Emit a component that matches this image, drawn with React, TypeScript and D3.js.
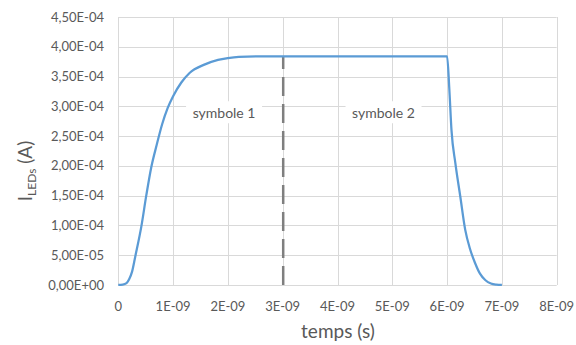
import React from "react";
import * as d3 from "d3";

// time in units of 1E-09 s, current in units of 1E-04 A
const timeNs: number[] = [0, 0.08, 0.15, 0.2, 0.25, 0.31, 0.42, 0.51, 0.6, 0.7, 0.8, 0.9, 1.0, 1.15, 1.3, 1.57, 1.82, 2.0, 2.2, 2.6, 3.0, 4.0, 5.0, 6.0, 6.04, 6.08, 6.15, 6.24, 6.33, 6.42, 6.51, 6.6, 6.7, 6.8, 6.9, 7.0];
const currentE4: number[] = [0, 0.005, 0.03, 0.1, 0.22, 0.48, 0.98, 1.5, 1.97, 2.35, 2.7, 2.97, 3.17, 3.4, 3.56, 3.7, 3.78, 3.81, 3.83, 3.84, 3.84, 3.84, 3.84, 3.84, 3.3, 2.6, 2.05, 1.49, 0.93, 0.6, 0.37, 0.19, 0.08, 0.025, 0.006, 0];

const xTickValues: number[] = [0, 1, 2, 3, 4, 5, 6, 7, 8];
const xTickLabels: string[] = ["0", "1E-09", "2E-09", "3E-09", "4E-09", "5E-09", "6E-09", "7E-09", "8E-09"];
const yTickValues: number[] = [0, 0.5, 1, 1.5, 2, 2.5, 3, 3.5, 4, 4.5];
const yTickLabels: string[] = ["0,00E+00", "5,00E-05", "1,00E-04", "1,50E-04", "2,00E-04", "2,50E-04", "3,00E-04", "3,50E-04", "4,00E-04", "4,50E-04"];

const markerTime = 3.0;
const markerValue = 3.84;
const annotations = [
  { label: "symbole 1", t: 1.93, v: 2.8 },
  { label: "symbole 2", t: 4.84, v: 2.8 },
];

const FONT = "Lato, 'Open Sans', sans-serif";
const TEXT = "#595959";
const GRID = "#d9d9d9";

export default function App() {
  const x = d3.scaleLinear().domain([0, 8]).range([118.3, 556.7]);
  const y = d3.scaleLinear().domain([0, 4.5]).range([285, 17]);
  const data = timeNs.map((t, i) => [t, currentE4[i]] as [number, number]);
  const line = d3
    .line<[number, number]>()
    .x((d) => x(d[0]))
    .y((d) => y(d[1]))
    .curve(d3.curveMonotoneX);

  return (
    <svg width={576} height={345} style={{ position: "absolute", left: 0, top: 0, background: "#fff" }}>
      <rect x={0} y={0} width={576} height={345} fill="#fff" />
      {/* grid */}
      {yTickValues.map((v) => (
        <line key={"gy" + v} x1={x(0)} x2={x(8)} y1={Math.round(y(v)) + 0.5} y2={Math.round(y(v)) + 0.5} stroke={GRID} strokeWidth={1} />
      ))}
      {xTickValues.map((v) => (
        <line key={"gx" + v} x1={Math.round(x(v)) + 0.5} x2={Math.round(x(v)) + 0.5} y1={y(4.5)} y2={y(0)} stroke={GRID} strokeWidth={1} />
      ))}
      {/* annotations with white boxes */}
      {annotations.map((a) => (
        <g key={a.label}>
          <rect x={x(a.t) - 38} y={y(a.v) - 17} width={76} height={22} fill="#fff" />
          <text x={x(a.t)} y={y(a.v)} textAnchor="middle" fontFamily={FONT} fontSize={14} fill={TEXT}>
            {a.label}
          </text>
        </g>
      ))}
      {/* dashed marker */}
      <line x1={x(markerTime) + 0.5} x2={x(markerTime) + 0.5} y1={y(0)} y2={y(markerValue)} stroke="#7f7f7f" strokeWidth={2.5} strokeDasharray="19,8" />
      {/* series */}
      <path d={line(data) || ""} fill="none" stroke="#5b9bd5" strokeWidth={2.25} strokeLinejoin="round" />
      {/* y tick labels */}
      {yTickValues.map((v, i) => (
        <text key={"yt" + v} x={104} y={y(v)} dy="0.35em" textAnchor="end" fontFamily={FONT} fontSize={13} fill={TEXT}>
          {yTickLabels[i]}
        </text>
      ))}
      {/* x tick labels */}
      {xTickValues.map((v, i) => (
        <text key={"xt" + v} x={x(v)} y={311} textAnchor="middle" fontFamily={FONT} fontSize={13} fill={TEXT}>
          {xTickLabels[i]}
        </text>
      ))}
      {/* axis titles */}
      <text x={338} y={338} textAnchor="middle" fontFamily={FONT} fontSize={19} fill={TEXT}>
        temps (s)
      </text>
      <text transform="translate(32,171) rotate(-90)" textAnchor="middle" fontFamily={FONT} fontSize={19} fill={TEXT}>
        I
        <tspan fontSize={12} dy={4}>LEDs</tspan>
        <tspan dy={-4}> (A)</tspan>
      </text>
    </svg>
  );
}
